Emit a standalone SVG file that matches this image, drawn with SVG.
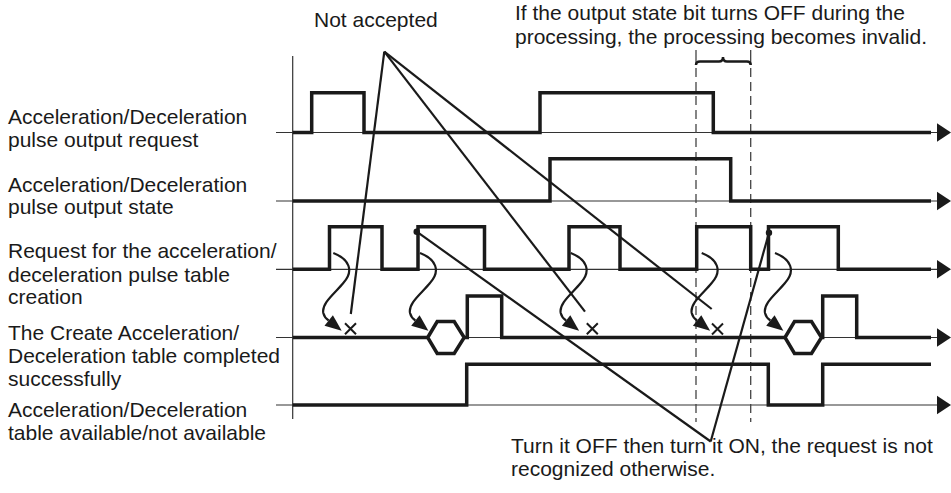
<svg xmlns="http://www.w3.org/2000/svg" xmlns:xlink="http://www.w3.org/1999/xlink" width="951" height="493" viewBox="0 0 951 493">
<style>
  text { font-family: "Liberation Sans", Arial, sans-serif; font-size: 21px; fill: #1a1a1a; }
  .base { stroke: #333; stroke-width: 1.2; fill: none; }
  .sig { stroke: #1a1a1a; stroke-width: 3.5; fill: none; stroke-linejoin: miter; }
  .diag { stroke: #1a1a1a; stroke-width: 2.2; fill: none; }
  .dash { stroke: #444; stroke-width: 1.3; stroke-dasharray: 9 5; fill: none; }
  .head { fill: #1a1a1a; }
  .hex { stroke: #1a1a1a; stroke-width: 3.5; fill: #fff; stroke-linejoin: miter; }
  .xm { stroke: #1a1a1a; stroke-width: 2; fill: none; }
  .curve { stroke: #1a1a1a; stroke-width: 2.2; fill: none; }
</style>
<defs>
  <g id="curvedArrow">
    <path class="curve" d="M0,0 C16,6 21,18 10,30 C2,40 -12,50 -10,60 C-9,64 -7,66 -4.6,67.5"/>
    <polygon class="head" points="8.4,77.7 -8.8,72.8 -0.4,62.2"/>
  </g>
  <polygon id="hexShape" class="hex" points="0,0 9.5,-16 26.5,-16 36.5,0 26.5,16 9.5,16"/>
  <path id="xShape" class="xm" d="M-5.5,-5.5 L5.5,5.5 M-5.5,5.5 L5.5,-5.5"/>
</defs>

<!-- axis and baselines -->
<g id="axis">
  <line class="base" x1="292.7" y1="56" x2="292.7" y2="419"/>
  <line class="base" x1="276" y1="132.5" x2="940" y2="132.5"/>
  <line class="base" x1="276" y1="201" x2="940" y2="201"/>
  <line class="base" x1="276" y1="269.3" x2="940" y2="269.3"/>
  <line class="base" x1="276" y1="337.5" x2="940" y2="337.5"/>
  <line class="base" x1="276" y1="405" x2="940" y2="405"/>
  <polygon class="head" points="951,132.5 937,123.2 937,141.8"/>
  <polygon class="head" points="951,201 937,191.7 937,210.3"/>
  <polygon class="head" points="951,269.3 937,260 937,278.6"/>
  <polygon class="head" points="951,337.5 937,328.2 937,346.8"/>
  <polygon class="head" points="951,405 937,395.7 937,414.3"/>
</g>

<!-- processing window -->
<g id="window">
  <line class="dash" x1="696" y1="68" x2="696" y2="422"/>
  <line class="dash" x1="750.7" y1="68" x2="750.7" y2="422"/>
  <line class="base" x1="696" y1="50" x2="696" y2="65"/>
  <line class="base" x1="750.7" y1="50" x2="750.7" y2="65"/>
  <path d="M696,65 Q696,61.5 700,61.5 H719 Q723,61.5 723,57 Q723,61.5 727,61.5 H747 Q750.7,61.5 750.7,65" fill="none" stroke="#1a1a1a" stroke-width="2.5"/>
</g>

<!-- signals -->
<g id="sig1"><path class="sig" d="M292.7,132.5 H311.7 V92.7 H364 V132.5 H540 V92.7 H713.3 V132.5 H931"/></g>
<g id="sig2"><path class="sig" d="M292.7,201 H550 V158.7 H730.7 V201 H931"/></g>
<g id="sig3"><path class="sig" d="M292.7,269.3 H329.5 V226.7 H382 V269.3 H418 V226.7 H484.5 V269.3 H569 V226.7 H620 V269.3 H696.7 V226.7 H750.7 V269.3 H768.5 V226.7 H838.3 V269.3 H931"/></g>
<g id="sig4">
  <path class="sig" d="M292.7,337.5 H428"/>
  <use xlink:href="#hexShape" href="#hexShape" x="427.7" y="337.5"/>
  <path class="sig" d="M464,337.5 H467.3 V296 H501.7 V337.5 H785.3"/>
  <use xlink:href="#hexShape" href="#hexShape" x="785" y="337.5"/>
  <path class="sig" d="M821.5,337.5 H822.7 V296 H856.7 V337.5 H931"/>
</g>
<g id="sig5"><path class="sig" d="M292.7,405 H466.7 V364.3 H768.3 V405 H822.7 V364.3 H931"/></g>

<!-- connectors -->
<g id="connectors">
  <use xlink:href="#curvedArrow" href="#curvedArrow" x="333.3" y="253"/>
  <use xlink:href="#curvedArrow" href="#curvedArrow" x="420" y="253"/>
  <use xlink:href="#curvedArrow" href="#curvedArrow" x="570.7" y="253"/>
  <use xlink:href="#curvedArrow" href="#curvedArrow" x="701.7" y="253"/>
  <use xlink:href="#curvedArrow" href="#curvedArrow" x="775" y="253"/>

  <use xlink:href="#xShape" href="#xShape" x="350.5" y="328.8"/>
  <use xlink:href="#xShape" href="#xShape" x="592.3" y="328.8"/>
  <use xlink:href="#xShape" href="#xShape" x="717.5" y="329"/>

  <line class="diag" x1="384.3" y1="51.7" x2="350.8" y2="314"/>
  <line class="diag" x1="384.3" y1="51.7" x2="585" y2="311.7"/>
  <line class="diag" x1="384.3" y1="51.7" x2="711.7" y2="309"/>

  <line class="diag" x1="710.7" y1="441.5" x2="416.7" y2="231.7"/>
  <line class="diag" x1="710.7" y1="441.5" x2="769" y2="232.7"/>
  <circle cx="416.7" cy="231.7" r="3.2" class="head"/>
  <circle cx="769" cy="232.7" r="3.2" class="head"/>
</g>

<!-- labels -->
<g id="labels">
  <text x="8" y="124">Acceleration/Deceleration</text>
  <text x="8" y="146.7">pulse output request</text>
  <text x="8" y="191.7">Acceleration/Deceleration</text>
  <text x="8" y="214.3">pulse output state</text>
  <text x="8" y="258.3">Request for the acceleration/</text>
  <text x="8" y="281.7">deceleration pulse table</text>
  <text x="8" y="304">creation</text>
  <text x="8" y="340">The Create Acceleration/</text>
  <text x="8" y="363.3">Deceleration table completed</text>
  <text x="8" y="386">successfully</text>
  <text x="8" y="416.7">Acceleration/Deceleration</text>
  <text x="8" y="439.5">table available/not available</text>
  <text x="314" y="26.7">Not accepted</text>
  <text x="515" y="20">If the output state bit turns OFF during the</text>
  <text x="515" y="43.5">processing, the processing becomes invalid.</text>
  <text x="511" y="453.3">Turn it OFF then turn it ON, the request is not</text>
  <text x="511" y="476">recognized otherwise.</text>
</g>
</svg>
